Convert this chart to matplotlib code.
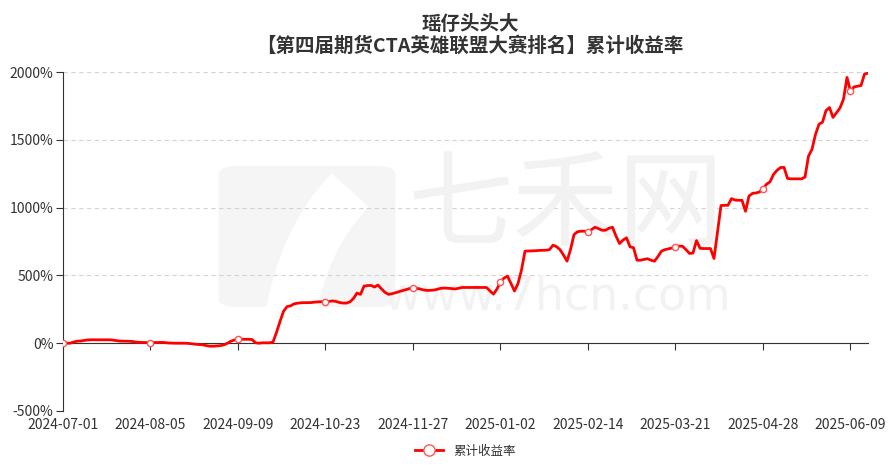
import matplotlib
matplotlib.use('Agg')
import matplotlib.pyplot as plt
from matplotlib.patches import FancyBboxPatch, PathPatch
from matplotlib.path import Path

plt.rcParams['font.family'] = ['Noto Sans CJK SC', 'DejaVu Sans']

title_name = '瑶仔头头大'
title_sub = '【第四届期货CTA英雄联盟大赛排名】累计收益率'
series_name = '累计收益率'

# cumulative return in %, one value per trading day
returns = [
    0, 0, 0, 8, 15, 16, 20, 24, 25, 25,
    25, 25, 25, 25, 24, 20, 16, 15, 15, 14,
    12, 8, 6, 5, 5, 5, 5, 5, 6, 5,
    2, 1, 0, 0, 0, 0, -2, -5, -8, -10,
    -12, -18, -22, -22, -20, -18, -12, 0, 15, 24,
    29, 29, 29, 29, 27, 3, 0, 3, 3, 3,
    8, 80, 160, 235, 270, 275, 290, 295, 298, 299,
    299, 300, 303, 305, 306, 306, 308, 312, 308, 300,
    296, 296, 305, 330, 370, 360, 421, 425, 426, 414,
    429, 400, 375, 360, 365, 372, 380, 388, 395, 403,
    409, 405, 400, 393, 389, 390, 392, 398, 405, 407,
    405, 403, 400, 405, 411, 411, 411, 411, 411, 411,
    411, 411, 385, 362, 400, 453, 480, 495, 440, 385,
    440, 540, 679, 680, 681, 682, 684, 685, 686, 690,
    723, 712, 690, 650, 605, 690, 801, 822, 826, 826,
    818, 838, 855, 845, 833, 833, 848, 855, 790, 735,
    760, 777, 711, 704, 612, 612, 618, 623, 612, 605,
    640, 679, 690, 696, 702, 710, 716, 715, 690, 662,
    665, 757, 700, 698, 698, 698, 625, 820, 1015, 1017,
    1017, 1066, 1056, 1054, 1054, 973, 1085, 1105, 1108, 1115,
    1140, 1172, 1190, 1245, 1275, 1295, 1297, 1215, 1212, 1212,
    1212, 1212, 1225, 1380, 1430, 1540, 1615, 1630, 1715, 1738,
    1665, 1700, 1735, 1800, 1960, 1858, 1890, 1895, 1900, 1985,
    1991,
]

date_labels = ['2024-07-01', '2024-08-05', '2024-09-09', '2024-10-23', '2024-11-27',
               '2025-01-02', '2025-02-14', '2025-03-21', '2025-04-28', '2025-06-09']
label_step = 25

y_ticks = [-500, 0, 500, 1000, 1500, 2000]

W, H = 895, 470


def fx(px):
    return px / W


def fy(py):
    # image rows (top down) -> figure fraction
    return 1 - py / H


fig = plt.figure(figsize=(W / 100, H / 100), dpi=100)
ax = fig.add_axes([fx(63), fy(411), fx(805), 339 / H])

# watermark: logo block with a white swoosh, then the site name
logo = FancyBboxPatch((fx(232), fy(300)), fx(150), 127 / H,
                      boxstyle='round,pad=0.015,rounding_size=0.02',
                      transform=fig.transFigure, fc='#f5f5f5', ec='none', zorder=0)
ax.add_patch(logo)
swoosh = Path([(fx(287), fy(330)), (fx(300), fy(260)), (fx(318), fy(225)), (fx(350), fy(190))],
              [Path.MOVETO, Path.CURVE4, Path.CURVE4, Path.CURVE4])
band = PathPatch(swoosh, transform=fig.transFigure, fc='none', ec='white', lw=36,
                 capstyle='butt', zorder=0.5)
ax.add_patch(band)
band.set_clip_path(logo)

ax.text(0.625, 0.60, '七禾网', transform=ax.transAxes, fontsize=76, color='#f2f2f2',
        ha='center', va='center', zorder=0.6)
ax.text(0.613, 0.335, 'www.7hcn.com', transform=ax.transAxes, fontsize=33, color='#f2f2f2',
        ha='center', va='center', zorder=0.6, family=['DejaVu Sans'])

x = list(range(len(returns)))
line, = ax.plot(x, returns, color='#ff0000', lw=2, marker='o', markevery=label_step,
                ms=4.5, mfc='white', mec='#ff5555', mew=1, label=series_name, zorder=3)

ax.set_xlim(0, len(returns) - 1)
ax.set_ylim(-500, 2000)
ax.set_yticks(y_ticks)
ax.set_yticklabels([f'{v}%' for v in y_ticks])
ax.yaxis.grid(True, linestyle=(0, (4, 3)), color='#d3d3d3', lw=0.8, zorder=1)
ax.set_axisbelow(True)

for s in ['top', 'right']:
    ax.spines[s].set_visible(False)
ax.spines['left'].set_color('#333333')
ax.spines['bottom'].set_position(('data', 0))
ax.spines['bottom'].set_color('#333333')

tick_pos = list(range(0, len(returns), label_step))
ax.set_xticks(tick_pos)
ax.tick_params(axis='x', direction='out', length=5, color='#333333', labelbottom=False)
ax.tick_params(axis='y', direction='out', length=5, color='#333333', labelsize=10,
               labelcolor='#333333', pad=2)

sec = ax.secondary_xaxis('bottom')
sec.set_xticks(tick_pos)
sec.set_xticklabels(date_labels)
sec.spines['bottom'].set_visible(False)
sec.tick_params(length=0, pad=5, labelsize=10, labelcolor='#333333')

fig.text(0.525, 0.948, title_name, ha='center', va='center', fontsize=14,
         fontweight='bold', color='#333333')
fig.text(0.525, 0.903, title_sub, ha='center', va='center', fontsize=14,
         fontweight='bold', color='#333333')

fig.legend(handles=[line], loc='center', bbox_to_anchor=(0.52, 0.04), frameon=False,
           fontsize=9, labelcolor='#333333', markerscale=1.8, handlelength=2.2)

fig.savefig('out.png', dpi=100)
